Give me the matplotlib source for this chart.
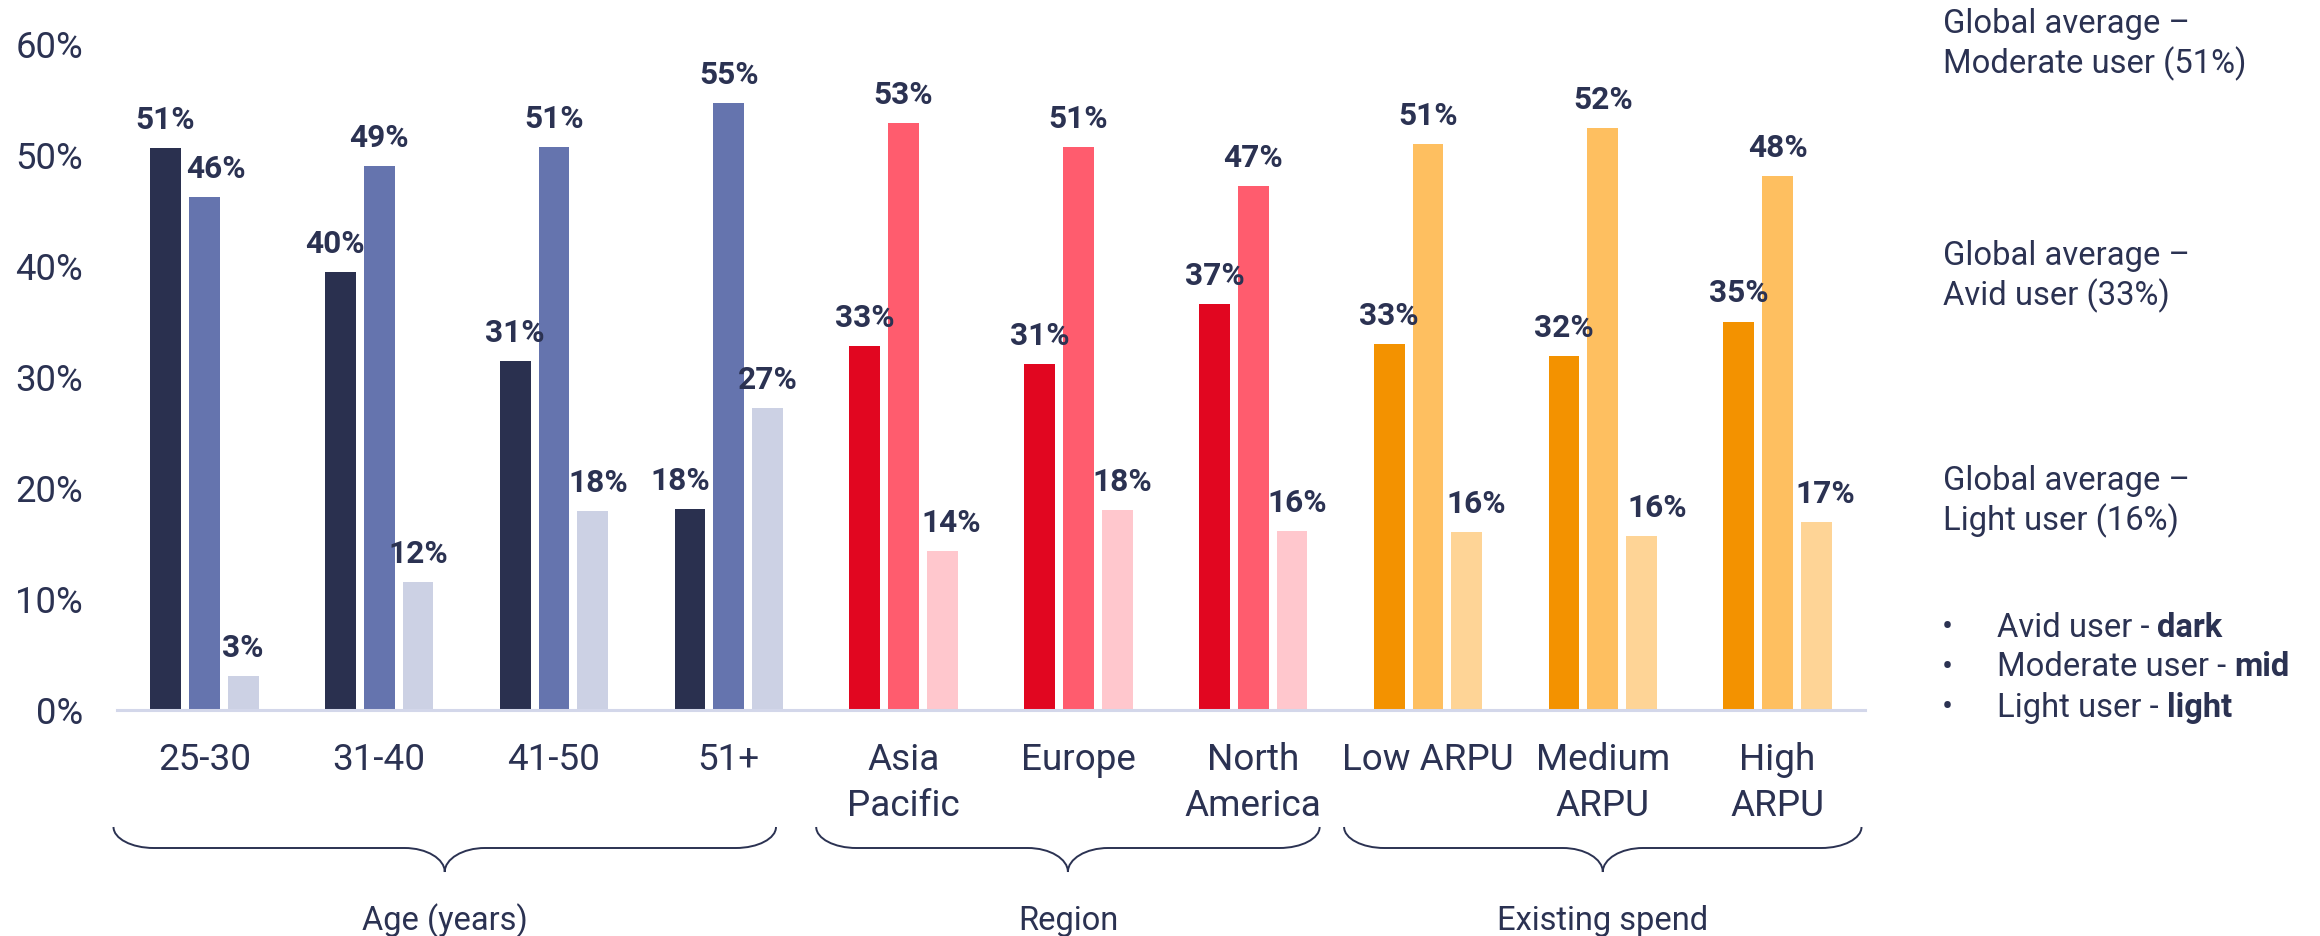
import matplotlib
matplotlib.use("Agg")
import matplotlib.pyplot as plt
import numpy as np
from matplotlib.path import Path
from matplotlib.patches import PathPatch
from matplotlib.transforms import blended_transform_factory

plt.rcParams['font.family'] = ['Roboto', 'DejaVu Sans']

# ---------------- data ----------------
categories = ["25-30", "31-40", "41-50", "51+", "Asia\nPacific", "Europe",
              "North\nAmerica", "Low ARPU", "Medium\nARPU", "High\nARPU"]
section_of = [0, 0, 0, 0, 1, 1, 1, 2, 2, 2]
sections = ["Age (years)", "Region", "Existing spend"]

avid = [50.6, 39.5, 31.4, 18.1, 32.8, 31.2, 36.6, 33.0, 31.9, 35.0]
moderate = [46.2, 49.0, 50.7, 54.7, 52.9, 50.7, 47.2, 51.0, 52.4, 48.1]
light = [3.1, 11.5, 17.9, 27.2, 14.3, 18.0, 16.1, 16.0, 15.7, 16.9]

avid_labels = ["51%", "40%", "31%", "18%", "33%", "31%", "37%", "33%", "32%", "35%"]
moderate_labels = ["46%", "49%", "51%", "55%", "53%", "51%", "47%", "51%", "52%", "48%"]
light_labels = ["3%", "12%", "18%", "27%", "14%", "18%", "16%", "16%", "16%", "17%"]

yticks = [0, 10, 20, 30, 40, 50, 60]
ytick_labels = ["0%", "10%", "20%", "30%", "40%", "50%", "60%"]

notes = [["Global average \u2013", "Moderate user (51%)"],
         ["Global average \u2013", "Avid user (33%)"],
         ["Global average \u2013", "Light user (16%)"]]
legend_items = [("Avid user - ", "dark"), ("Moderate user - ", "mid"), ("Light user - ", "light")]

# ---------------- style ----------------
NAVY = "#2B3252"
AXIS = "#D3D7EA"
palettes = [("#2A304F", "#6574AE", "#CCD1E4"),
            ("#E10620", "#FF5C6E", "#FFC7CD"),
            ("#F39200", "#FEBF60", "#FED496")]
# small horizontal nudges (pixels) of some value labels, as in the original
label_nudge = {(1, 0): 12, (0, 1): -5, (0, 3): -10, (2, 2): 6, (2, 4): 8.5,
               (2, 5): 5.5, (2, 6): 5, (2, 7): 9, (2, 8): 16, (2, 9): 8.5}

W, H = 2320, 936
fig = plt.figure(figsize=(W / 100, H / 100), dpi=100)
ax = fig.add_axes([117 / W, 1 - 710 / H, (1865 - 117) / W, (710 - 44) / H])

x = np.arange(len(categories))
bar_w = 0.177
step = 0.222
series = [(avid, avid_labels), (moderate, moderate_labels), (light, light_labels)]
for k, (vals, labs) in enumerate(series):
    colors = [palettes[s][k] for s in section_of]
    bars = ax.bar(x + (k - 1) * step, vals, width=bar_w, color=colors, zorder=2)
    for i, (b, lab) in enumerate(zip(bars, labs)):
        dx = label_nudge.get((k, i), 0) * 0.72
        ax.annotate(lab, (b.get_x() + b.get_width() / 2, b.get_height()),
                    xytext=(dx, 19 * 0.72), textcoords="offset points",
                    ha="center", va="baseline", fontsize=22.8,
                    fontweight="bold", color=NAVY)

ax.set_xlim(-0.5, 9.5)
ax.set_ylim(0, 60)
for s in ["left", "top", "right"]:
    ax.spines[s].set_visible(False)
ax.spines["bottom"].set_color(AXIS)
ax.spines["bottom"].set_linewidth(2.2)

ax.set_yticks(yticks, ytick_labels)
ax.tick_params(axis="y", length=0, pad=24.5, labelsize=26.3, labelcolor=NAVY)
ax.set_xticks(x, categories)
ax.tick_params(axis="x", length=0, pad=23, labelsize=26.6, labelcolor=NAVY)
for t in ax.get_xticklabels():
    t.set_linespacing(1.35)

# ---------------- braces ----------------
spans = [(-0.52, 3.27), (3.5, 6.38), (6.52, 9.48)]
tr = blended_transform_factory(ax.transData, fig.transFigure)
ytop, ymid, ytip = 1 - 827 / H, 1 - 848 / H, 1 - 872 / H
r = 0.23
for (x0, x1), name in zip(spans, sections):
    xm = (x0 + x1) / 2
    verts = [
        (x0, ytop), (x0, ytop + 0.55 * (ymid - ytop)), (x0 + 0.45 * r, ymid), (x0 + r, ymid),
        (xm - r, ymid),
        (xm - 0.45 * r, ymid), (xm, ymid + 0.45 * (ytip - ymid)), (xm, ytip),
        (xm, ymid + 0.45 * (ytip - ymid)), (xm + 0.45 * r, ymid), (xm + r, ymid),
        (x1 - r, ymid),
        (x1 - 0.45 * r, ymid), (x1, ytop + 0.55 * (ymid - ytop)), (x1, ytop),
    ]
    codes = [Path.MOVETO, Path.CURVE4, Path.CURVE4, Path.CURVE4,
             Path.LINETO,
             Path.CURVE4, Path.CURVE4, Path.CURVE4,
             Path.CURVE4, Path.CURVE4, Path.CURVE4,
             Path.LINETO,
             Path.CURVE4, Path.CURVE4, Path.CURVE4]
    patch = PathPatch(Path(verts, codes), transform=tr, fill=False,
                      edgecolor=NAVY, linewidth=1.4, clip_on=False)
    fig.add_artist(patch)
    fig.text(xm, 1 - 930 / H, name, transform=tr, ha="center", va="baseline",
             fontsize=23.5, color=NAVY)

# ---------------- right-side notes ----------------
note_x = 1943 / W
note_baselines = [(33.5, 73.5), (265.5, 305.5), (490, 530)]
for lines, ys in zip(notes, note_baselines):
    for line, yb in zip(lines, ys):
        fig.text(note_x, 1 - yb / H, line, ha="left", va="baseline",
                 fontsize=23.6, color=NAVY)

renderer = fig.canvas.get_renderer()
leg_baselines = [636.7, 676.5, 717.5]
for (reg, bold), yb in zip(legend_items, leg_baselines):
    yf = 1 - yb / H
    fig.text(1947 / W, yf, "\u2022", ha="center", va="baseline", fontsize=23.6, color=NAVY)
    t = fig.text(1997 / W, yf, reg.rstrip(), ha="left", va="baseline", fontsize=23.6, color=NAVY)
    bb = t.get_window_extent(renderer)
    fig.text((bb.x1 + 8) / W, yf, bold, ha="left", va="baseline", fontsize=23.6,
             fontweight="bold", color=NAVY)

fig.savefig("out.png", dpi=100, facecolor="white")
